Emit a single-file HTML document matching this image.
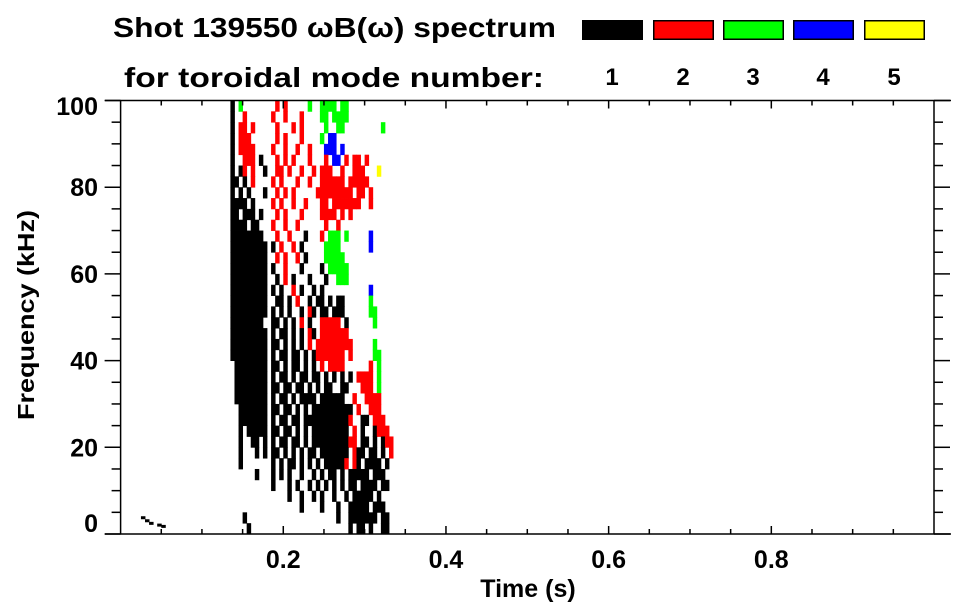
<!DOCTYPE html>
<html><head><meta charset="utf-8"><style>
html,body{margin:0;padding:0;background:#fff;}
svg{display:block;font-family:"Liberation Sans",Arial,sans-serif;font-weight:bold;}
</style></head><body>
<svg id="chart" width="963" height="615" viewBox="0 0 963 615" xmlns="http://www.w3.org/2000/svg">
<rect x="0" y="0" width="963" height="615" fill="#fff"/>
<text x="113" y="37" font-size="28" textLength="443" lengthAdjust="spacingAndGlyphs">Shot 139550 ωB(ω) spectrum</text>
<text x="124" y="87" font-size="28" textLength="420" lengthAdjust="spacingAndGlyphs">for toroidal mode number:</text>
<g id="legend"></g>
<g id="cells"></g>
<g id="axes"></g>
<text x="528" y="597" font-size="25" text-anchor="middle">Time (s)</text>
<text transform="translate(34,315) rotate(-90)" font-size="23" text-anchor="middle" textLength="210" lengthAdjust="spacingAndGlyphs">Frequency (kHz)</text>
</svg>
<script>
const modeLabels = ["1","2","3","4","5"];
const modeColors = ["#000000","#ff0000","#00ff00","#0000ff","#ffff00"];
const xTickLabels = [0.2,0.4,0.6,0.8];
const yTickLabels = [0,20,40,60,80,100];
const tStart = 0.135, tStep = 0.005;
const fTop = 100, fStep = 2.5;
// rows from top (100 kHz) downward; each char is a time bin; '.' = no mode, digit = toroidal mode
const modeRows = [
"1.3....... .2.2.....3 ..3333.33. ..........",
"1..2...... 2..2...2.. ..33.3333. ..........",
"1.22.2.... .2...2.2.. ...3..33.. .......3..",
"1.222..... .2.2...2.. ..3.44.... ..........",
"1.2222.... 2..2..2..2 ...444.4.. ..........",
"1..222.1.. .2.2.2...2 ...2.44.2. 22.2......",
"1.12.2..1. .22.2..2.. 2.222..2.. 222...5...",
"11.1.2.... 2.2...2..2 ..222222.2 2222......",
"1.1.1...1. .2.2.2.... .222222222 .22.2.....",
"1111.1.... 2.2..2..2. ..22.22222 22..2.....",
"11.111.1.. .2.2...2.. ..2222.2.2 ..........",
"1111.11... 2..2..2... ...2..2... ..........",
"11111111.. .2..2...1. ..2.333.3. ....4.....",
"111111111. 1.2..2.1.. ...3333... ....4.....",
"111111111. .2.2..2.1. ...33333.. ..........",
"111111111. 1..2...1.. ..1.33333. ..........",
"111111111. .1.2.1...1 ...1..333. ..........",
"111111111. 1.1..2.1.. 1.1....... ....4.....",
"111111111. .11.1.2..1 .11.1.11.. ....3.....",
"111111111. 1.1.1..1.2 1.11.111.. ....33....",
"11111111.. 11.1.1.2.1 ..22222.1. .....3....",
"111111111. 1.11.1.1.2 1.2222222. ..........",
"111111111. 11.1.1.1.2 .222222222 .....3....",
"111111111. 1.11.11.1. 12222222.2 .....33...",
".11111111. 11.1.11.1. 1.2.2222.. ....2.3...",
".11111111. 1.11.1.11. 11.1.1.1.1 .2222.3...",
".11111111. 11.11.11.1 .1.11..11. ..222.3...",
".11111111. 1.11.1.111 1.111111.. 2..2222...",
"..1111111. 11.11.1.1. 1111111111 .2..222...",
"..1111111. 1.11.11.11 1111111112 ..11.222..",
"..1.11111. 11.11.1.1. 111111111. 2.1..1222.",
"..1..11.1. 1.11.11.1. 1111111112 2.11.1.122",
"..1...1.1. 11.1.1.1.1 1.1111111. 211.11.1.2",
"..1....... 1.1.11.1.1 .1.111112. 21.1111.1.",
"......1... 1.1.1..1.. 1.1.11.1.1 1111.111..",
".......... 1...1.1..1 .1.1.1.1.1 1.1111.11.",
".......... ....1..1.. 1.1..1..1. 11111.1...",
".......... .......1.. ..1...1..1 1111.111..",
"...1...... .......... ......1..1 111111.11.",
"....1..... .......... .........1 .11.1..11."
];
const extraT = [0.025,0.030,0.035,0.045,0.050];
const extraF = [3.5,2.8,2.2,1.8,1.5];
const extraMode = [1,1,1,1,1];

const X0=120.6, X1=934, Y0=534, Y1=100.5;
const NS="http://www.w3.org/2000/svg";
function xs(t){return X0+(X1-X0)*t/1.0;}
function ys(f){return Y0-(Y0-Y1)*f/100;}
function mk(tag,attrs,parent){const e=document.createElementNS(NS,tag);for(const k in attrs)e.setAttribute(k,attrs[k]);parent.appendChild(e);return e;}

// legend
const lg=document.getElementById('legend');
const lx=[582,653,723,793,864];
modeLabels.forEach((m,i)=>{
  const r=mk('rect',{x:lx[i]+0.75,y:20.75,width:59.5,height:18.5,fill:modeColors[i],stroke:'#000','stroke-width':1.5},lg);
  
  
  const t=mk('text',{x:lx[i]+30,y:85,'font-size':24,'text-anchor':'middle'},lg);
  t.textContent=m;
  
  
});

// cells
const cg=document.getElementById('cells');
modeRows.forEach((row,r)=>{
  const s=row.replace(/ /g,'');
  const fHi=fTop-fStep*r, fLo=fHi-fStep;
  for(let c=0;c<s.length;c++){
    const ch=s[c]; if(ch==='.')continue;
    const m=parseInt(ch,10);
    const t0=tStart+tStep*c, t1=t0+tStep;
    const x=xs(t0), w=xs(t1)-x;
    const y=ys(fHi), h=ys(fLo)-y;
    const e=mk('rect',{x:x.toFixed(2),y:y.toFixed(2),width:(w+0.4).toFixed(2),height:(h+0.4).toFixed(2),fill:modeColors[m-1]},cg);
    
    
  }
});
extraT.forEach((t,i)=>{
  const x=xs(t), y=ys(extraF[i]+0.6);
  const e=mk('rect',{x:x.toFixed(2),y:y.toFixed(2),width:4.5,height:3,fill:modeColors[extraMode[i]-1]},cg);
  
  
});

// axes
const ag=document.getElementById('axes');
function line(x1,y1,x2,y2,name){const e=mk('line',{x1,y1,x2,y2,stroke:'#000','stroke-width':1.5},ag);return e;}
line(105,Y0,951,Y0,'x-axis-line');
line(105,Y1,951,Y1,'top-axis-line');
line(X0,Y1,X0,Y0,'y-axis-line');
line(X1,Y1,X1,Y0,'right-axis-line');
for(let k=1;k<20;k++){
  const t=k*0.05, x=xs(t), len=(k%4===0)?8:5;
  line(x,Y0,x,Y0-len,'x-tick');
  line(x,Y1,x,Y1+len,'x-tick-top');
}
for(let k=0;k<=20;k++){
  const f=k*5, y=ys(f), len=(k%4===0)?16:9;
  line(X0-len,y,X0,y,'y-tick');
  line(X1,y,X1+len,y,'y-tick-right');
}
xTickLabels.forEach(v=>{
  const t=mk('text',{x:xs(v),y:568,'font-size':25,'text-anchor':'middle'},ag);
  t.textContent=v.toFixed(1);
  
  
});
yTickLabels.forEach(v=>{
  let y=ys(v); y=Math.min(Math.max(y,106),523);
  const t=mk('text',{x:98,y:y+9,'font-size':25,'text-anchor':'end'},ag);
  t.textContent=String(v);
  
  
});
</script>
</body></html>
